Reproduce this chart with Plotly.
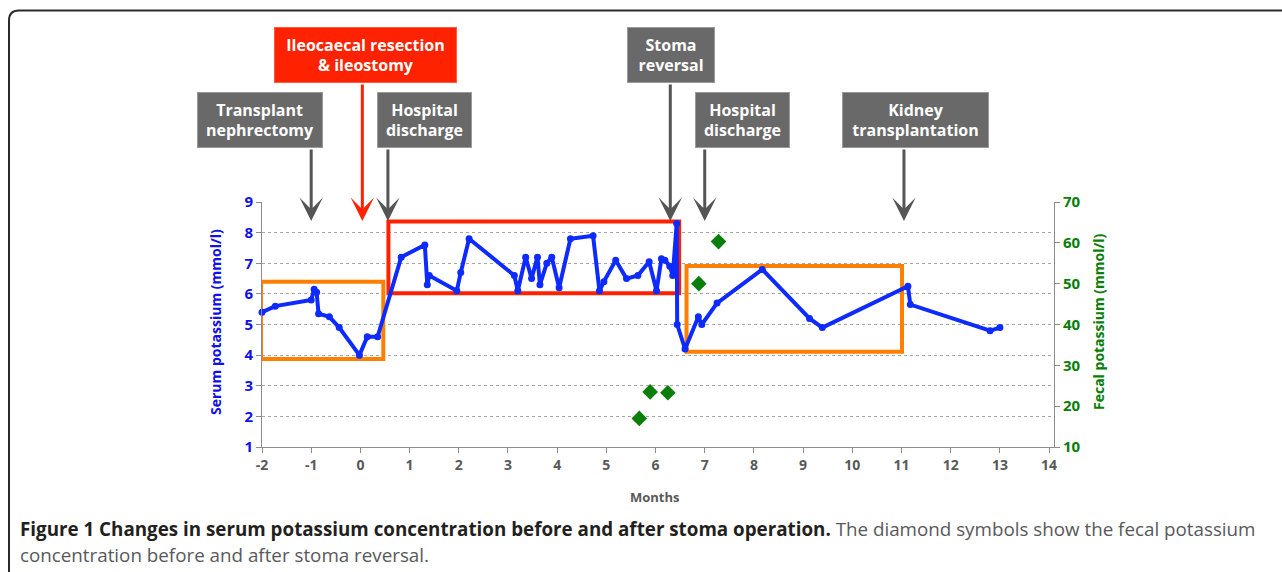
import plotly.graph_objects as go

# ---------------- data ----------------
serum_months = [-2.0, -1.73, -1.0, -0.94, -0.89, -0.85, -0.63, -0.43, -0.02, 0.14, 0.35,
                0.83, 1.31, 1.36, 1.40, 1.96, 2.04, 2.21, 3.13, 3.20, 3.36, 3.48, 3.60,
                3.65, 3.79, 3.89, 4.04, 4.27, 4.73, 4.86, 4.95, 5.19, 5.41, 5.64, 5.87,
                6.02, 6.12, 6.19, 6.29, 6.35, 6.43, 6.44, 6.60, 6.87, 6.94, 7.25, 8.17,
                9.13, 9.39, 11.13, 11.18, 12.80, 13.00]
serum_k = [5.4, 5.6, 5.8, 6.15, 6.05, 5.35, 5.25, 4.9, 4.0, 4.6, 4.6,
           7.2, 7.6, 6.3, 6.6, 6.1, 6.7, 7.8, 6.6, 6.1, 7.2, 6.5, 7.2,
           6.3, 7.0, 7.2, 6.2, 7.8, 7.9, 6.1, 6.4, 7.1, 6.5, 6.6, 7.05,
           6.1, 7.15, 7.1, 6.9, 6.6, 8.3, 5.0, 4.2, 5.25, 5.0, 5.7, 6.8,
           5.2, 4.9, 6.25, 5.65, 4.8, 4.9]

fecal_months = [5.67, 5.89, 6.25, 6.88, 7.28]
fecal_k = [17.0, 23.5, 23.3, 50.0, 60.3]

x_ticks = list(range(-2, 15))
left_ticks = list(range(1, 10))
right_ticks = list(range(10, 80, 10))

event_labels = ["Transplant<br>nephrectomy", "Ileocaecal resection<br>& ileostomy",
                "Hospital<br>discharge", "Stoma<br>reversal", "Hospital<br>discharge",
                "Kidney<br>transplantation"]
event_months = [-1.0, 0.04, 0.56, 6.30, 7.00, 11.05]

# period boxes: (x0, x1, y0, y1)
box_x0 = [-2.02, 0.57, 6.63]
box_x1 = [0.466, 6.48, 11.01]
box_y0 = [3.87, 6.02, 4.11]
box_y1 = [6.40, 8.36, 6.91]
box_colors = ["#FF7F00", "#FF2200", "#FF7F00"]

# ---------------- layout geometry (pixels) ----------------
W, H = 1282, 572
L, R, T, B = 262, 1054, 202, 447

def px(xp):
    return (xp - L) / (R - L)

def py(yp):
    return (B - yp) / (B - T)

FONT = "Open Sans"
BLUE = "#0D2BFF"
BLUE_TXT = "#1010E8"
GREEN = "#0A7D0A"
GRAY_TXT = "#595959"

fig = go.Figure()
fig.add_trace(go.Scatter(x=serum_months, y=serum_k, mode="lines+markers",
                         line=dict(color=BLUE, width=4),
                         marker=dict(color=BLUE, size=7),
                         showlegend=False, yaxis="y", cliponaxis=False))
fig.add_trace(go.Scatter(x=fecal_months, y=fecal_k, mode="markers",
                         marker=dict(color=GREEN, size=12, symbol="diamond"),
                         showlegend=False, yaxis="y2"))

shapes = []
for x0, x1, y0, y1, c in zip(box_x0, box_x1, box_y0, box_y1, box_colors):
    shapes.append(dict(type="rect", xref="x", yref="y", x0=x0, x1=x1, y0=y0, y1=y1,
                       line=dict(color=c, width=4), layer="between"))

# outer rounded frame
fx0, fy0 = px(9), py(10.5)
rx, ry = 10 / (R - L), 10 / (B - T)
fx1, fyb = px(1282), py(572)
shapes.append(dict(type="path", xref="paper", yref="paper",
                   path=f"M {fx0},{fyb} L {fx0},{fy0 - ry} Q {fx0},{fy0} {fx0 + rx},{fy0} L {fx1},{fy0}",
                   line=dict(color="#2b2b2b", width=2)))

annotations = []
# event boxes
box_centers = [(260, 120, 126), (365.5, 55, 183), (424.5, 120, 95),
               (670.5, 55, 88), (742.5, 120, 95), (915.5, 120, 147)]
box_bg = ["#696969", "#FF2200", "#696969", "#696969", "#696969", "#696969"]
arrow_colors = ["#555555", "#FF2200", "#555555", "#555555", "#555555", "#555555"]
tip_px = 221
tip_val = 1 + (B - tip_px) / ((B - T) / 8)
for lab, m, (cx, cy, bw), bg, ac in zip(event_labels, event_months, box_centers, box_bg, arrow_colors):
    annotations.append(dict(xref="paper", yref="paper", x=px(cx), y=py(cy),
                            text=lab, showarrow=False, xanchor="center", yanchor="middle",
                            width=bw - 2, height=54, bgcolor=bg, borderpad=0,
                            bordercolor="#9a9a9a" if bg != "#FF2200" else "#ff5a40", borderwidth=1,
                            font=dict(family=FONT, size=16, color="white", weight="bold"),
                            align="center"))
    tail = cy + 28
    annotations.append(dict(xref="x", yref="y", x=m, y=tip_val, text="",
                            showarrow=True, ax=0, ay=tail - tip_px, axref="pixel", ayref="pixel",
                            arrowhead=3, arrowsize=1.3, arrowwidth=3, arrowcolor=ac,
                            standoff=0, startstandoff=0))

# axis titles
annotations.append(dict(xref="paper", yref="paper", x=px(215), y=py(322), text="Serum potassium (mmol/l)",
                        textangle=-90, showarrow=False, xanchor="center", yanchor="middle",
                        font=dict(family=FONT, size=14, color=BLUE_TXT, weight="bold")))
annotations.append(dict(xref="paper", yref="paper", x=px(1098), y=py(322), text="Fecal potassium (mmol/l)",
                        textangle=-90, showarrow=False, xanchor="center", yanchor="middle",
                        font=dict(family=FONT, size=14, color=GREEN, weight="bold")))
annotations.append(dict(xref="paper", yref="paper", x=px(655), y=py(497), text="Months",
                        showarrow=False, xanchor="center", yanchor="middle",
                        font=dict(family=FONT, size=13, color=GRAY_TXT, weight="bold")))
# caption
annotations.append(dict(xref="paper", yref="paper", x=px(18), y=py(529), xanchor="left", yanchor="middle",
                        showarrow=False,
                        text="<b>Figure 1 Changes in serum potassium concentration before and after stoma operation.</b>"
                             "<span style='color:#58595B'> The diamond symbols show the fecal potassium</span>",
                        font=dict(family=FONT, size=18.8, color="#231F20")))
annotations.append(dict(xref="paper", yref="paper", x=px(18), y=py(555), xanchor="left", yanchor="middle",
                        showarrow=False, text="concentration before and after stoma reversal.",
                        font=dict(family=FONT, size=18.8, color="#58595B")))

fig.update_layout(
    width=W, height=H,
    margin=dict(l=L, r=W - R, t=T, b=H - B, pad=0),
    paper_bgcolor="white", plot_bgcolor="white",
    shapes=shapes, annotations=annotations,
    xaxis=dict(range=[-2, 14.1], tickvals=x_ticks, ticktext=[str(v) for v in x_ticks],
               showgrid=False, zeroline=False, showline=True, linecolor="#8c8c8c", linewidth=1,
               ticks="outside", ticklen=5, tickcolor="#8c8c8c",
               tickfont=dict(family=FONT, size=14, color=GRAY_TXT, weight="bold")),
    yaxis=dict(range=[1, 9], tickvals=left_ticks, showgrid=True, gridcolor="#a6a6a6",
               griddash="dot", gridwidth=1, zeroline=False, showline=True, linecolor="#8c8c8c",
               ticks="outside", ticklen=5, tickcolor="#8c8c8c",
               tickfont=dict(family=FONT, size=15, color=BLUE_TXT, weight="bold")),
    yaxis2=dict(range=[10, 70], tickvals=right_ticks, overlaying="y", side="right",
                showgrid=False, zeroline=False, showline=True, linecolor="#8c8c8c",
                ticks="outside", ticklen=5, tickcolor="#8c8c8c",
                tickfont=dict(family=FONT, size=15, color=GREEN, weight="bold")),
)

fig.write_html("out.html", config={"displayModeBar": False},
               post_script="document.body.style.margin='0';")
